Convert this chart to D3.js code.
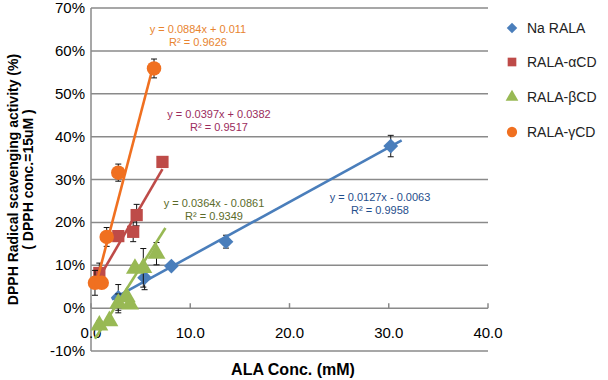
<!DOCTYPE html>
<html><head><meta charset="utf-8">
<script src="https://cdn.jsdelivr.net/npm/d3@7"></script>
<style>body{margin:0;background:#fff}svg{display:block;font-family:"Liberation Sans",Arial,sans-serif}</style>
</head><body><svg id="c" width="608" height="380"></svg>
<script>
// ---- data ----
const seriesNames = ["Na RALA", "RALA-αCD", "RALA-βCD", "RALA-γCD"];
const naX   = [2.75, 5.4, 8.1, 13.6, 30.2];
const naY   = [2.5, 7.1, 9.8, 15.5, 37.8];
const naErr = [3.0, 2.8, 0.3, 1.5, 2.5];
const alphaX   = [0.84, 2.75, 4.25, 4.6, 7.2];
const alphaY   = [8.2, 16.8, 17.8, 21.7, 34.1];
const alphaErr = [2.3, 0.5, 2.3, 2.5, 0.5];
const betaX   = [0.84, 1.85, 2.75, 3.6, 3.93, 4.43, 5.27, 6.6];
const betaY   = [-4.0, -3.0, 1.1, 2.6, 0.9, 9.2, 9.4, 12.7];
const betaErr = [1.0, 0.5, 2.2, 1.0, 0.5, 0.5, 4.5, 2.6];
const gammaX   = [0.4, 1.08, 1.58, 2.75, 6.35];
const gammaY   = [5.9, 5.9, 16.6, 31.6, 55.9];
const gammaErr = [2.9, 0.5, 2.2, 2.0, 2.2];
// trendlines: slope, intercept (fraction), x range
const trendSlope = [0.0127, 0.0397, 0.0364, 0.0884];
const trendIntercept = [-0.0063, 0.0382, -0.0861, 0.011];
const trendFrom = [2.1, 0.84, 0.4, 0.4];
const trendTo = [31.3, 7.2, 7.5, 6.35];
const eqText = ["y = 0.0127x - 0.0063", "y = 0.0397x + 0.0382", "y = 0.0364x - 0.0861", "y = 0.0884x + 0.011"];
const r2Text = ["R² = 0.9958", "R² = 0.9517", "R² = 0.9349", "R² = 0.9626"];
const eqPos = [[380, 197], [219, 114], [214, 203], [198, 29]];
const xTicks = [0, 10, 20, 30, 40];
const yTicks = [-10, 0, 10, 20, 30, 40, 50, 60, 70];

const colors = ["#4A7EBB", "#BE4B48", "#98B954", "#F07020"];
const eqColors = ["#1F4E8C", "#9B2C5C", "#5B6B2A", "#E8842F"];
const shapes = [d3.symbolSquare, d3.symbolSquare, d3.symbolTriangle, d3.symbolCircle];
const rot = [45, 0, 0, 0];
const shapeSize = [110, 150, 140, 165];

const series = [
  {x: naX, y: naY, e: naErr},
  {x: alphaX, y: alphaY, e: alphaErr},
  {x: betaX, y: betaY, e: betaErr},
  {x: gammaX, y: gammaY, e: gammaErr}
];

const svg = d3.select("#c");
const L = 91, R = 488, T = 8, B = 351;
const x = d3.scaleLinear().domain([0, 40]).range([L, R]);
const y = d3.scaleLinear().domain([-10, 70]).range([B, T]);
const gridC = "#8A8A8A";

// gridlines
svg.append("g").selectAll("line").data(yTicks.filter(d => d > -10)).join("line")
  .attr("x1", L).attr("x2", R).attr("y1", d => y(d)).attr("y2", d => y(d))
  .attr("stroke", gridC).attr("stroke-width", 1.5);
// left axis & bottom border
svg.append("line").attr("x1", L).attr("x2", L).attr("y1", T).attr("y2", B).attr("stroke", gridC).attr("stroke-width", 1.5);
svg.append("line").attr("x1", L).attr("x2", R).attr("y1", B).attr("y2", B).attr("stroke", gridC).attr("stroke-width", 1.5);
// x ticks on zero line
svg.append("g").selectAll("line").data(xTicks).join("line")
  .attr("x1", d => x(d)).attr("x2", d => x(d)).attr("y1", y(0)).attr("y2", y(0) - 5)
  .attr("stroke", gridC).attr("stroke-width", 1.5);

// tick labels
svg.append("g").selectAll("text").data(yTicks).join("text")
  .attr("x", L - 6).attr("y", d => y(d) + 5).attr("text-anchor", "end")
  .attr("font-size", 15).attr("fill", "#000").text(d => d + "%");
svg.append("g").selectAll("text").data(xTicks).join("text")
  .attr("x", d => x(d)).attr("y", y(0) + 30).attr("text-anchor", "middle")
  .attr("font-size", 15).attr("fill", "#000").text(d => d3.format(".1f")(d));

// axis titles
svg.append("text").attr("x", 293).attr("y", 375).attr("text-anchor", "middle")
  .attr("font-size", 16).attr("font-weight", "bold").text("ALA Conc. (mM)");
const yt = svg.append("text").attr("transform", `translate(18,${(T + B) / 2}) rotate(-90)`)
  .attr("text-anchor", "middle").attr("font-size", 14).attr("font-weight", "bold");
yt.append("tspan").attr("x", 0).attr("y", 0).text("DPPH Radical scavenging activity (%)");
yt.append("tspan").attr("x", 0).attr("y", 15).text("( DPPH conc.=15uM )");

// series
series.forEach((s, i) => {
  const g = svg.append("g");
  const pts = s.x.map((xv, j) => ({x: xv, y: s.y[j], e: s.e[j]}));
  // error bars (behind markers)
  const eb = g.append("g").attr("stroke", "#111").attr("stroke-width", 1);
  pts.forEach(d => {
    eb.append("line").attr("x1", x(d.x)).attr("x2", x(d.x)).attr("y1", y(d.y - d.e)).attr("y2", y(d.y + d.e));
    [d.y - d.e, d.y + d.e].forEach(v => eb.append("line")
      .attr("x1", x(d.x) - 3).attr("x2", x(d.x) + 3).attr("y1", y(v)).attr("y2", y(v)));
  });
  // trendline
  g.append("line")
    .attr("x1", x(trendFrom[i])).attr("y1", y(100 * (trendSlope[i] * trendFrom[i] + trendIntercept[i])))
    .attr("x2", x(trendTo[i])).attr("y2", y(100 * (trendSlope[i] * trendTo[i] + trendIntercept[i])))
    .attr("stroke", colors[i]).attr("stroke-width", 2.6);
  // markers
  g.selectAll("path").data(pts).join("path")
    .attr("d", d3.symbol().type(shapes[i]).size(shapeSize[i]))
    .attr("transform", d => `translate(${x(d.x)},${y(d.y)}) rotate(${rot[i]})`)
    .attr("fill", colors[i]);
  // equation
  const t = svg.append("text").attr("text-anchor", "middle").attr("font-size", 11).attr("fill", eqColors[i]);
  t.append("tspan").attr("x", eqPos[i][0]).attr("y", eqPos[i][1] + 4).text(eqText[i]);
  t.append("tspan").attr("x", eqPos[i][0]).attr("y", eqPos[i][1] + 17).text(r2Text[i]);
});

// legend
const lg = svg.append("g");
seriesNames.forEach((n, i) => {
  const ly = [28, 62, 97, 132][i];
  lg.append("path").attr("d", d3.symbol().type(shapes[i]).size(shapeSize[i] * 0.5))
    .attr("transform", `translate(512,${ly}) rotate(${rot[i]})`).attr("fill", colors[i]);
  lg.append("text").attr("x", 527).attr("y", ly + 5).attr("font-size", 14).attr("fill", "#222").text(n);
});
</script></body></html>
